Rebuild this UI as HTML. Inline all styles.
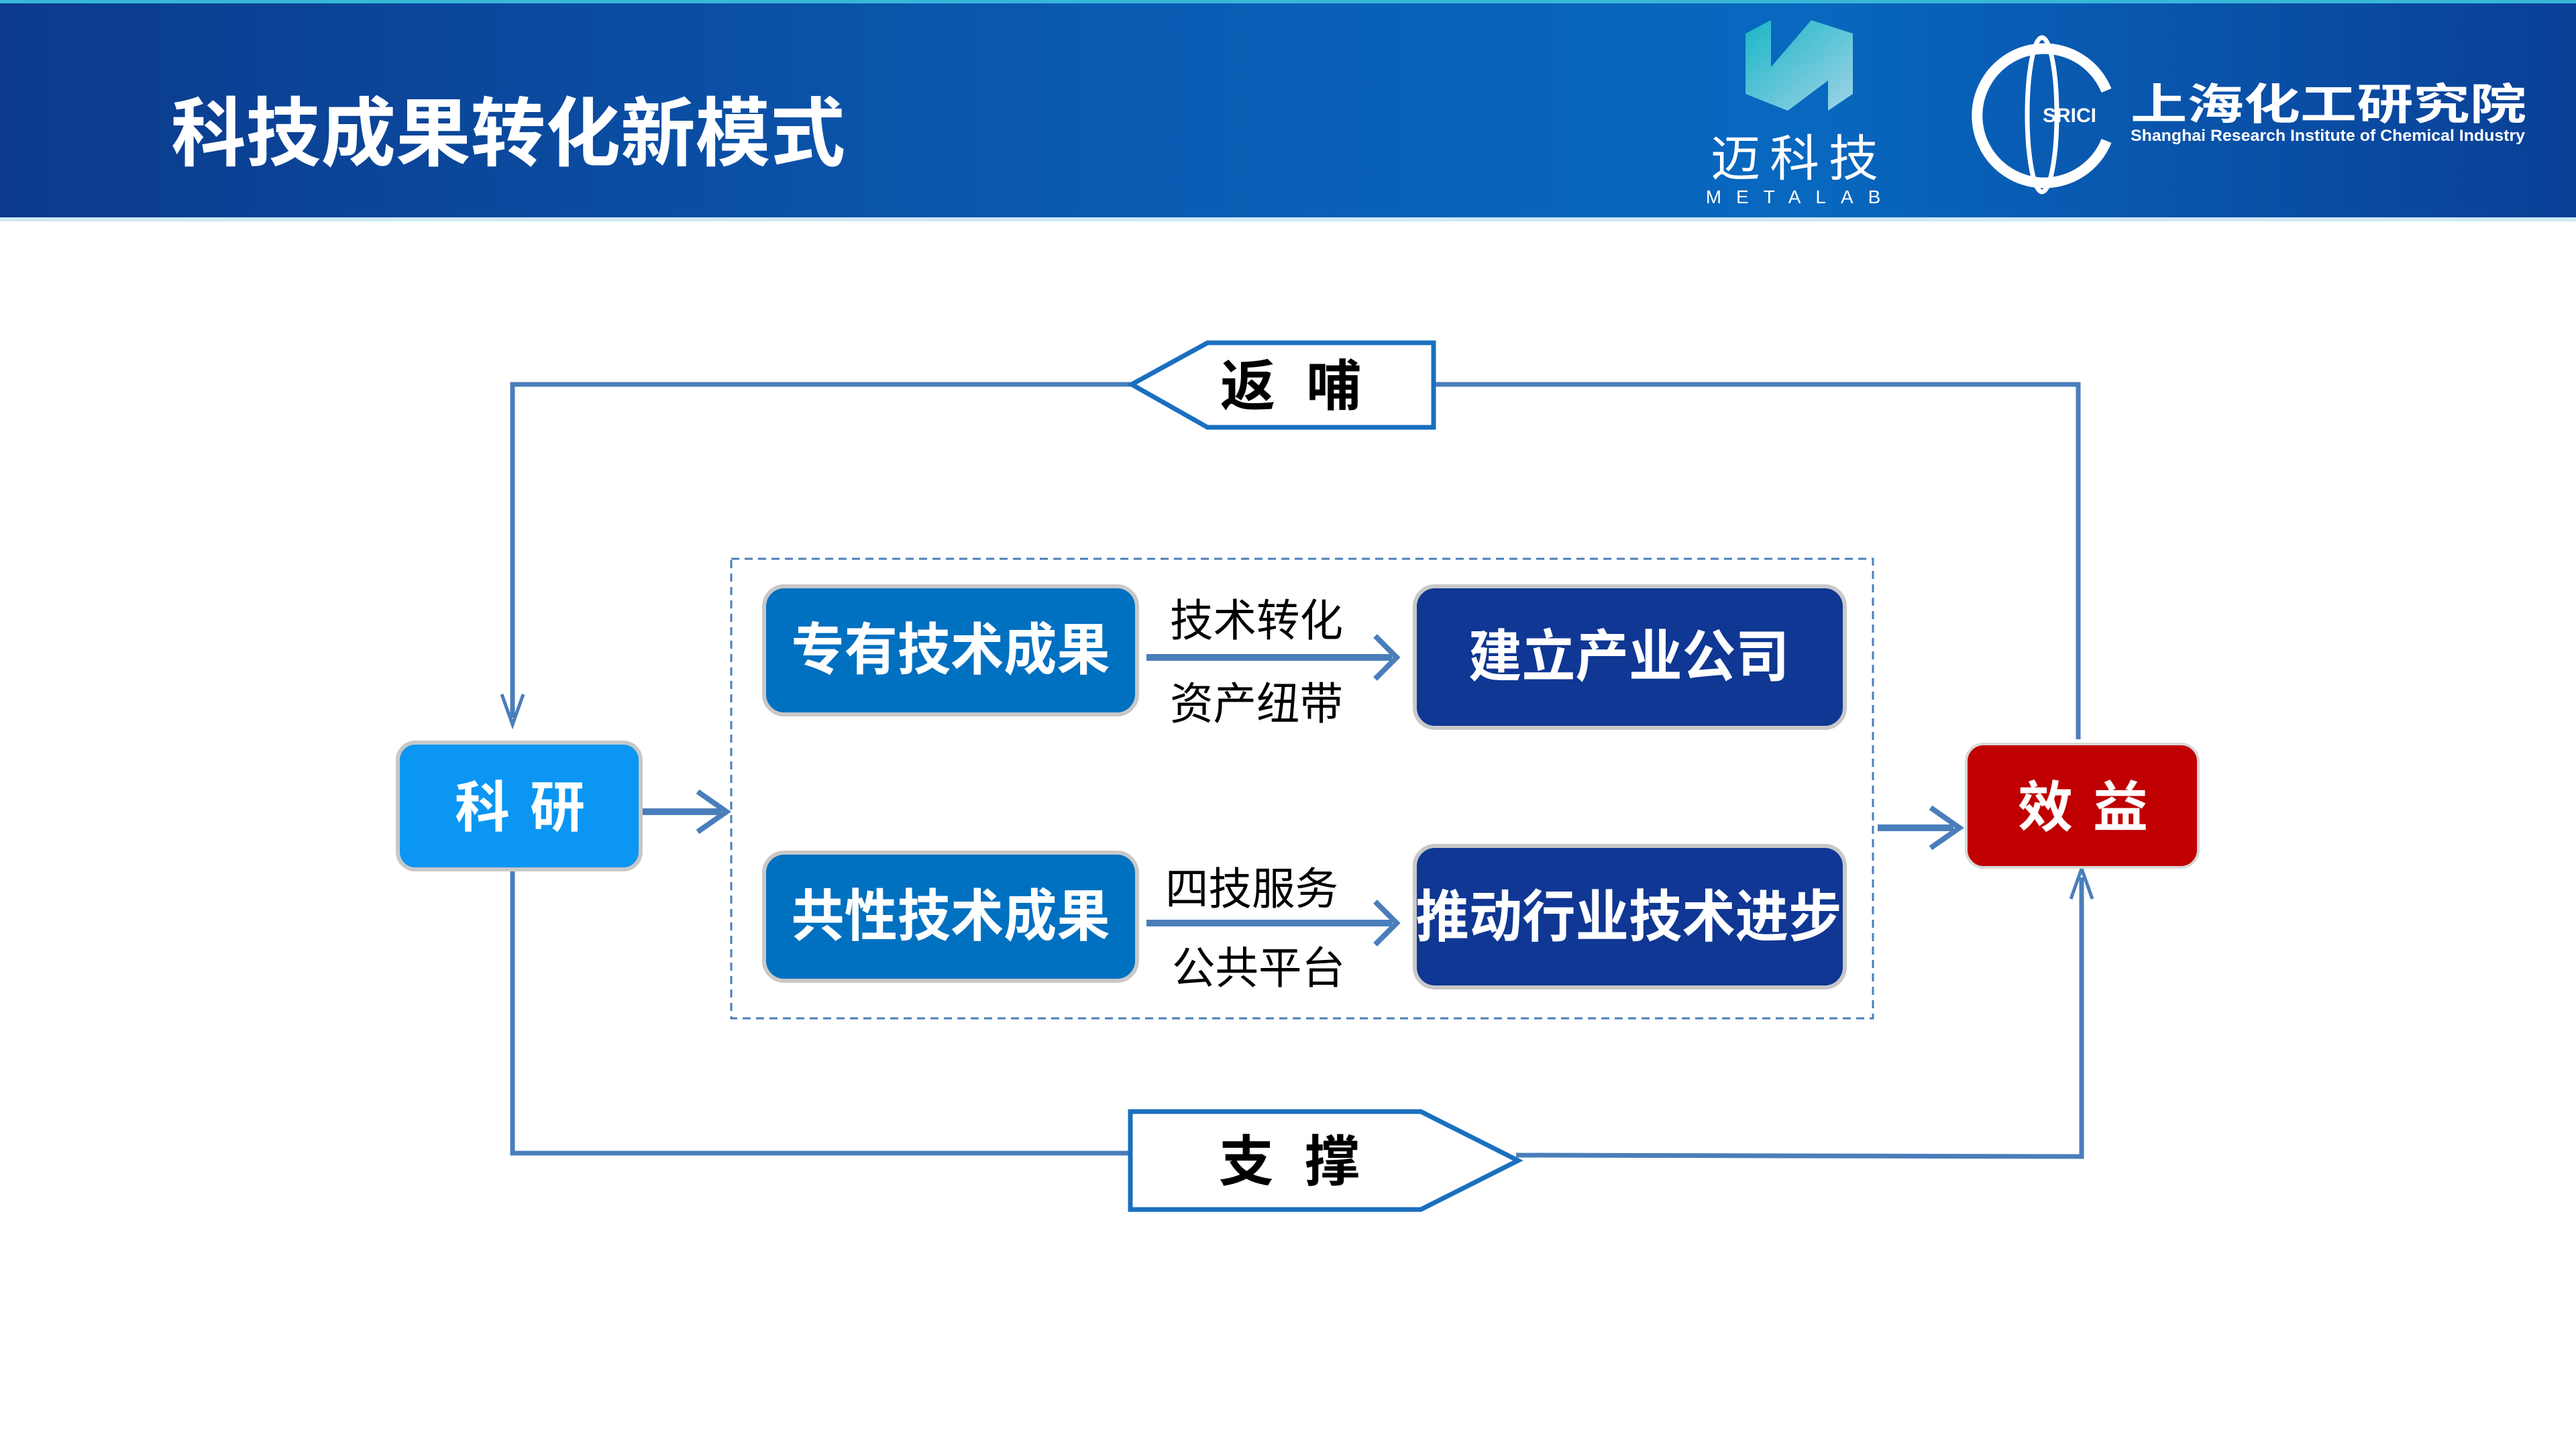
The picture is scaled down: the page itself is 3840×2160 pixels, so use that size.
<!DOCTYPE html>
<html><head><meta charset="utf-8"><style>
html,body{margin:0;padding:0;width:3840px;height:2160px;overflow:hidden;background:#fff}
svg{display:block}
text{font-family:"Liberation Sans","Noto Sans CJK SC",sans-serif}
</style></head><body>
<svg width="3840" height="2160" viewBox="0 0 3840 2160" xmlns="http://www.w3.org/2000/svg">
<defs>
<linearGradient id="hd" x1="0" y1="0" x2="1" y2="0">
<stop offset="0" stop-color="#0b3a8c"/><stop offset="0.45" stop-color="#0a5cb3"/><stop offset="0.7" stop-color="#0868bf"/><stop offset="1" stop-color="#0a3f96"/>
</linearGradient>
<linearGradient id="lg" x1="0" y1="0" x2="1" y2="1">
<stop offset="0" stop-color="#1ab6c8"/><stop offset="1" stop-color="#9fd3e6"/>
</linearGradient>
</defs>
<rect x="0" y="0" width="3840" height="328" fill="url(#hd)"/>
<rect x="0" y="0" width="3840" height="5" fill="#37b7d8"/>
<rect x="0" y="324" width="3840" height="6" fill="#cfe9f5"/>
<text x="255" y="238" font-size="112" font-weight="bold" fill="#fff" textLength="1005" lengthAdjust="spacingAndGlyphs">科技成果转化新模式</text>
<polygon points="2602,50 2640,30 2640,100 2700,30 2762,50 2762,140 2725,165 2725,120 2665,165 2602,140" fill="url(#lg)"/>
<text x="2682" y="262" font-size="74" fill="#fff" text-anchor="middle" letter-spacing="14">迈科技</text>
<text x="2684" y="303" font-size="28" fill="#fff" text-anchor="middle" letter-spacing="22">METALAB</text>
<ellipse cx="3044" cy="171" rx="22" ry="115" fill="none" stroke="#fff" stroke-width="7"/>
<path d="M3140,135 A100,100 0 1 0 3140,210" fill="none" stroke="#fff" stroke-width="16"/>
<text x="3085" y="182" font-size="30" font-weight="bold" fill="#fff" text-anchor="middle">SRICI</text>
<text x="3176" y="178" font-size="64" font-weight="bold" fill="#fff" textLength="590" lengthAdjust="spacingAndGlyphs">上海化工研究院</text>
<text x="3176" y="210" font-size="24" font-weight="bold" fill="#fff" textLength="588" lengthAdjust="spacingAndGlyphs">Shanghai Research Institute of Chemical Industry</text>
<g stroke="#4a7ebb" stroke-width="7" fill="none">
<polyline points="1690,573 764,573 764,1070"/>
<polyline points="2138,573 3098,573 3098,1102"/>
<polyline points="764,1296 764,1719 1690,1719"/>
<polyline points="2260,1722 3103,1724 3103,1308"/>
<line x1="955" y1="1210" x2="1075" y2="1210" stroke-width="10"/>
<line x1="2799" y1="1234" x2="2912" y2="1234" stroke-width="10"/>
<line x1="1709" y1="980" x2="2075" y2="980" stroke-width="10"/>
<line x1="1709" y1="1376" x2="2075" y2="1376" stroke-width="10"/>
<polyline points="748,1035 764,1080 780,1035" stroke-width="5"/>
<polyline points="3087,1340 3103,1295 3119,1340" stroke-width="5"/>
<polyline points="1040,1180 1083,1210 1040,1240" stroke-width="8"/>
<polyline points="2878,1204 2921,1234 2878,1264" stroke-width="8"/>
<polyline points="2050,948 2082,980 2050,1012" stroke-width="8"/>
<polyline points="2050,1344 2082,1376 2050,1408" stroke-width="8"/>
</g>
<rect x="1090" y="833" width="1702" height="685" fill="none" stroke="#4a7ebb" stroke-width="3" stroke-dasharray="12,8"/>
<polygon points="1687,573 1800,511 2137,511 2137,637 1800,637" fill="#fff" stroke="#1a6fc0" stroke-width="7"/>
<text x="1947" y="604" font-size="82" font-weight="bold" fill="#000" text-anchor="middle" letter-spacing="46">返哺</text>
<polygon points="1685,1657 2118,1657 2263,1730 2118,1803 1685,1803" fill="#fff" stroke="#1a6fc0" stroke-width="7"/>
<text x="1945" y="1760" font-size="82" font-weight="bold" fill="#000" text-anchor="middle" letter-spacing="46">支撑</text>
<rect x="593" y="1107" width="362" height="189" rx="26" fill="#0b96f3" stroke="#c8c8c8" stroke-width="6"/>
<text x="790" y="1232" font-size="82" font-weight="bold" fill="#fff" text-anchor="middle" letter-spacing="30">科研</text>
<rect x="2931" y="1109" width="346" height="184" rx="26" fill="#c00000" stroke="#d8d8d8" stroke-width="4"/>
<text x="3120" y="1232" font-size="82" font-weight="bold" fill="#fff" text-anchor="middle" letter-spacing="30">效益</text>
<rect x="1139" y="874" width="556" height="191" rx="30" fill="#0070c0" stroke="#c8c8c8" stroke-width="6"/>
<text x="1417" y="998" font-size="84" font-weight="bold" fill="#fff" text-anchor="middle" textLength="475" lengthAdjust="spacingAndGlyphs">专有技术成果</text>
<rect x="1139" y="1271" width="556" height="191" rx="30" fill="#0070c0" stroke="#c8c8c8" stroke-width="6"/>
<text x="1417" y="1395" font-size="84" font-weight="bold" fill="#fff" text-anchor="middle" textLength="475" lengthAdjust="spacingAndGlyphs">共性技术成果</text>
<rect x="2109" y="874" width="641" height="211" rx="30" fill="#0f3793" stroke="#c8c8c8" stroke-width="6"/>
<text x="2428" y="1008" font-size="84" font-weight="bold" fill="#fff" text-anchor="middle" textLength="478" lengthAdjust="spacingAndGlyphs">建立产业公司</text>
<rect x="2109" y="1261" width="641" height="211" rx="30" fill="#0f3793" stroke="#c8c8c8" stroke-width="6"/>
<text x="2428" y="1396" font-size="84" font-weight="bold" fill="#fff" text-anchor="middle" textLength="635" lengthAdjust="spacingAndGlyphs">推动行业技术进步</text>
<g font-size="66" fill="#000" text-anchor="middle">
<text x="1873" y="948" textLength="258" lengthAdjust="spacingAndGlyphs">技术转化</text>
<text x="1873" y="1072" textLength="258" lengthAdjust="spacingAndGlyphs">资产纽带</text>
<text x="1866" y="1348" textLength="258" lengthAdjust="spacingAndGlyphs">四技服务</text>
<text x="1876" y="1466" textLength="258" lengthAdjust="spacingAndGlyphs">公共平台</text>
</g>
</svg>
</body></html>
